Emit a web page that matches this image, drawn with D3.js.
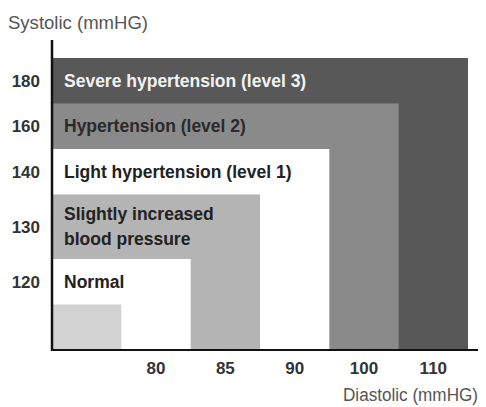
<!DOCTYPE html>
<html><head><meta charset="utf-8">
<script src="https://cdn.jsdelivr.net/npm/d3@7"></script>
<style>body{margin:0;background:#fff}svg{display:block}</style>
</head><body>
<script>
// ---- data ----
const categories = [
  ["Normal"],
  ["Slightly increased", "blood pressure"],
  ["Light hypertension (level 1)"],
  ["Hypertension (level 2)"],
  ["Severe hypertension (level 3)"]
];
const systolicTicks = ["120", "130", "140", "160", "180"];
const diastolicTicks = ["80", "85", "90", "100", "110"];
const fills = ["#ffffff", "#b4b4b4", "#ffffff", "#8a8a8a", "#585858"];
const textColors = ["#222", "#222", "#222", "#2a2a2a", "#f2f2f2"];
const baseFill = "#d2d2d2";

const W = 486, H = 407;
const m = {left: 52, right: 18, top: 58, bottom: 57};
const FONT = "Liberation Sans, Arial, sans-serif";
const svg = d3.select("body").append("svg").attr("width", W).attr("height", H);

// x: band scale with a leading unlabeled band
const xDomain = [""].concat(diastolicTicks);
const x = d3.scaleBand().domain(xDomain).range([m.left, W - m.right]).padding(0);

// y: rows weighted by number of text lines
const weights = [1].concat(categories.map(c => 1 + 0.42 * (c.length - 1)));
const cum = [0];
weights.forEach(w => cum.push(cum[cum.length - 1] + w));
const y = d3.scaleLinear().domain([0, cum[cum.length - 1]]).range([H - m.bottom, m.top]);
const rowTop = i => y(cum[i + 1]);
const rowMid = i => (y(cum[i]) + y(cum[i + 1])) / 2;

const x0 = m.left, yBase = H - m.bottom;

// rectangles, largest first
for (let i = categories.length - 1; i >= 0; i--) {
  const k = i + 1;
  svg.append("rect")
    .attr("x", x0).attr("y", rowTop(k))
    .attr("width", x(xDomain[k]) + x.bandwidth() - x0)
    .attr("height", yBase - rowTop(k))
    .attr("fill", fills[i]);
}
svg.append("rect")
  .attr("x", x0).attr("y", rowTop(0))
  .attr("width", x(xDomain[0]) + x.bandwidth() - x0)
  .attr("height", yBase - rowTop(0))
  .attr("fill", baseFill);

// category labels
categories.forEach((lines, i) => {
  const k = i + 1;
  const mid = rowMid(k);
  const lh = 25;
  const t = svg.append("text")
    .attr("font-family", FONT)
    .attr("font-weight", "bold").attr("font-size", 17.5)
    .attr("fill", textColors[i]);
  lines.forEach((ln, j) => {
    t.append("tspan").attr("x", 64)
      .attr("y", mid + (j - (lines.length - 1) / 2) * lh)
      .attr("dy", "0.35em").text(ln);
  });
});

// y tick labels
systolicTicks.forEach((s, i) => {
  svg.append("text").attr("x", 40).attr("y", rowMid(i + 1)).attr("dy", "0.35em")
    .attr("text-anchor", "end")
    .attr("font-family", FONT)
    .attr("font-weight", "bold").attr("font-size", 17).attr("fill", "#333").text(s);
});

// x axis tick labels via d3 axis
const xAxis = d3.axisBottom(x).tickValues(diastolicTicks).tickSize(0).tickPadding(12);
const gx = svg.append("g").attr("transform", `translate(0,${yBase})`).call(xAxis);
gx.select(".domain").remove();
gx.selectAll("text").attr("font-family", FONT)
  .attr("font-weight", "bold").attr("font-size", 17).attr("fill", "#333");

// axis lines
svg.append("line").attr("x1", x0).attr("x2", x0).attr("y1", 40).attr("y2", yBase + 1)
  .attr("stroke", "#111").attr("stroke-width", 2.5);
svg.append("line").attr("x1", x0 - 1).attr("x2", 478).attr("y1", yBase).attr("y2", yBase)
  .attr("stroke", "#111").attr("stroke-width", 2);

// axis titles
svg.append("text").attr("x", 8).attr("y", 23).attr("dy", "0.35em")
  .attr("font-family", FONT).attr("font-size", 18)
  .attr("textLength", 140).attr("lengthAdjust", "spacingAndGlyphs")
  .attr("fill", "#555").text("Systolic (mmHG)");
svg.append("text").attr("x", 343).attr("y", 395).attr("dy", "0.35em")
  .attr("font-family", FONT).attr("font-size", 18)
  .attr("textLength", 135).attr("lengthAdjust", "spacingAndGlyphs")
  .attr("fill", "#555").text("Diastolic (mmHG)");
</script>
</body></html>
